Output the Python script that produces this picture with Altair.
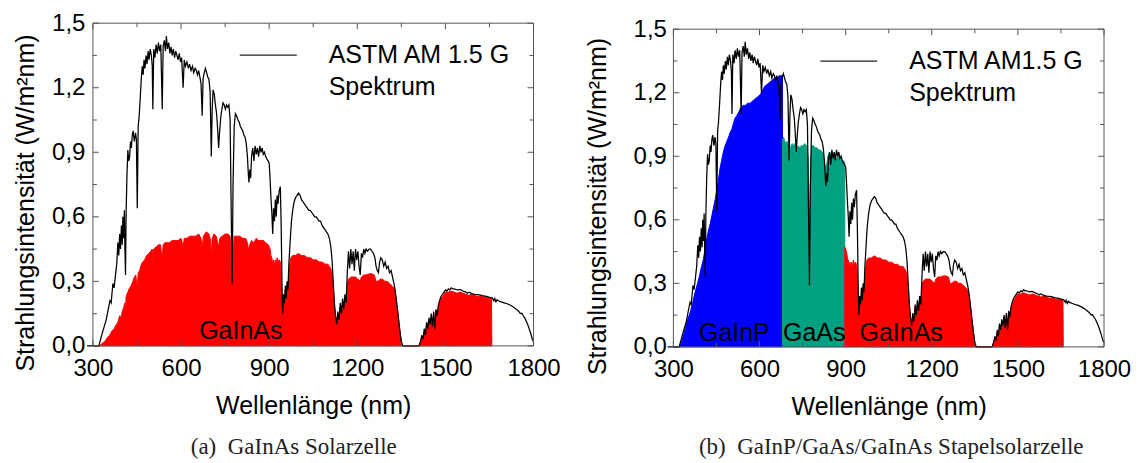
import altair as alt
import pandas as pd

# ---------------- data ----------------
SPEC_WL = [280, 300, 320, 326, 334, 345, 352, 358, 362, 368, 372, 377, 381, 385, 388, 391, 394, 397, 400, 402,
           405, 407, 409, 411, 413, 416, 419, 422, 425, 428, 431, 434, 437, 441, 445, 448, 451, 454, 457, 461,
           465, 468, 471, 474, 477, 481, 484, 488, 491, 495, 499, 502, 504, 507, 511, 515, 519, 523, 527, 531,
           534, 536, 539, 543, 547, 550, 554, 558, 562, 566, 570, 574, 578, 582, 586, 590, 594, 598, 602, 607,
           611, 615, 620, 625, 629, 634, 639, 643, 648, 652, 656, 660, 664, 668, 672, 675, 679, 683, 687, 691,
           695, 699, 703, 706, 709, 713, 717, 721, 724, 728, 731, 735, 739, 743, 747, 751, 755, 759, 763, 767,
           771, 774, 777, 781, 785, 789, 794, 798, 802, 806, 810, 814, 818, 822, 826, 829, 831, 834, 837, 840,
           844, 848, 852, 856, 860, 864, 868, 872, 876, 880, 884, 888, 892, 896, 900, 903, 906, 909, 912, 915,
           918, 921, 924, 927, 930, 934, 938, 941, 944, 946, 949, 952, 955, 958, 961, 964, 967, 970, 973, 976,
           980, 985, 990, 995, 1000, 1005, 1010, 1015, 1020, 1025, 1030, 1035, 1040, 1045, 1050, 1055, 1060, 1065, 1070, 1075,
           1080, 1085, 1090, 1095, 1100, 1105, 1110, 1114, 1118, 1122, 1126, 1130, 1134, 1138, 1142, 1146, 1150, 1154, 1158, 1162,
           1166, 1170, 1174, 1178, 1182, 1186, 1190, 1194, 1198, 1202, 1206, 1210, 1214, 1218, 1222, 1226, 1230, 1235, 1240, 1245,
           1250, 1255, 1260, 1264, 1268, 1272, 1276, 1280, 1285, 1290, 1295, 1300, 1305, 1310, 1315, 1320, 1325, 1330, 1335, 1340,
           1345, 1350, 1355, 1410, 1415, 1420, 1424, 1428, 1432, 1436, 1440, 1444, 1448, 1452, 1456, 1460, 1464, 1468, 1472, 1476,
           1480, 1485, 1490, 1495, 1500, 1505, 1510, 1515, 1520, 1525, 1530, 1540, 1550, 1560, 1570, 1575, 1580, 1590, 1600, 1610,
           1620, 1630, 1640, 1650, 1660, 1665, 1668, 1672, 1676, 1680, 1690, 1700, 1710, 1720, 1730, 1740, 1750, 1755, 1760, 1765,
           1770, 1780, 1790, 1796, 1800]
SPEC_VAL = [0, 0, 0, 0.03, 0.07, 0.12, 0.17, 0.21, 0.20, 0.29, 0.27, 0.33, 0.38, 0.48, 0.42, 0.52, 0.45, 0.56, 0.47, 0.60,
            0.50, 0.63, 0.45, 0.33, 0.62, 0.80, 0.91, 0.86, 0.88, 0.95, 0.92, 0.98, 1.00, 0.95, 0.99, 0.96, 0.64, 1.02, 1.06, 1.15,
            1.25, 1.30, 1.26, 1.33, 1.29, 1.35, 1.31, 1.37, 1.33, 1.38, 1.35, 1.30, 1.10, 1.38, 1.34, 1.40, 1.36, 1.41, 1.37, 1.40,
            1.22, 1.10, 1.39, 1.42, 1.37, 1.44, 1.38, 1.41, 1.36, 1.39, 1.35, 1.38, 1.34, 1.37, 1.35, 1.33, 1.36, 1.32, 1.34, 1.20,
            1.33, 1.30, 1.32, 1.29, 1.31, 1.28, 1.30, 1.27, 1.29, 1.28, 1.26, 1.28, 1.25, 1.22, 1.07, 1.24, 1.27, 1.29, 1.27, 1.25,
            1.24, 1.18, 0.88, 1.10, 1.19, 1.17, 1.12, 1.08, 1.02, 0.92, 0.99, 1.06, 1.10, 1.13, 1.12, 1.10, 1.12, 1.11, 1.12, 1.05,
            0.60, 0.29, 0.75, 1.02, 1.08, 1.07, 1.05, 1.04, 1.02, 1.01, 1.00, 0.98, 0.97, 0.94, 0.88, 0.80, 0.76, 0.82, 0.78, 0.88,
            0.92, 0.86, 0.93, 0.89, 0.92, 0.88, 0.93, 0.90, 0.92, 0.89, 0.90, 0.88, 0.87, 0.86, 0.85, 0.78, 0.69, 0.62, 0.52, 0.64,
            0.58, 0.68, 0.60, 0.70, 0.66, 0.72, 0.74, 0.55, 0.25, 0.15, 0.24, 0.20, 0.28, 0.22, 0.30, 0.26, 0.38, 0.45, 0.52, 0.58,
            0.63, 0.67, 0.69, 0.70, 0.71, 0.70, 0.68, 0.67, 0.66, 0.65, 0.64, 0.63, 0.63, 0.62, 0.61, 0.60, 0.60, 0.59, 0.58, 0.58,
            0.56, 0.55, 0.54, 0.53, 0.52, 0.50, 0.46, 0.40, 0.30, 0.20, 0.14, 0.10, 0.16, 0.12, 0.20, 0.15, 0.22, 0.17, 0.24, 0.20,
            0.34, 0.44, 0.36, 0.45, 0.38, 0.44, 0.35, 0.45, 0.40, 0.44, 0.37, 0.33, 0.43, 0.41, 0.45, 0.43, 0.45, 0.44, 0.45, 0.45,
            0.44, 0.43, 0.41, 0.37, 0.35, 0.34, 0.39, 0.41, 0.40, 0.37, 0.39, 0.36, 0.37, 0.34, 0.35, 0.32, 0.29, 0.25, 0.19, 0.13,
            0.07, 0.02, 0, 0, 0.02, 0.05, 0.03, 0.08, 0.05, 0.11, 0.08, 0.13, 0.10, 0.15, 0.09, 0.16, 0.08, 0.17, 0.14, 0.19,
            0.21, 0.23, 0.24, 0.25, 0.26, 0.255, 0.265, 0.26, 0.27, 0.265, 0.265, 0.26, 0.262, 0.255, 0.25, 0.245, 0.25, 0.243, 0.24, 0.238,
            0.236, 0.232, 0.23, 0.226, 0.222, 0.21, 0.22, 0.205, 0.215, 0.21, 0.205, 0.20, 0.196, 0.19, 0.182, 0.172, 0.16, 0.15, 0.152, 0.14,
            0.13, 0.10, 0.06, 0.03, 0.02]

GAINAS_WL = [300, 322, 330, 340, 350, 357, 365, 372, 380, 385, 391, 395, 400, 405, 409, 411, 413, 419, 425, 430,
             436, 441, 446, 451, 454, 459, 465, 470, 476, 483, 490, 497, 502, 504, 507, 515, 523, 530, 536, 539,
             545, 550, 560, 570, 580, 590, 600, 607, 611, 620, 630, 640, 650, 660, 668, 672, 676, 686, 695, 699,
             703, 706, 712, 720, 728, 732, 740, 750, 760, 767, 771, 774, 777, 781, 790, 800, 810, 820, 826, 831,
             834, 840, 848, 856, 864, 872, 880, 888, 897, 903, 906, 909, 912, 915, 918, 921, 924, 927, 930, 934,
             938, 941, 944, 946, 949, 952, 955, 958, 961, 964, 967, 970, 974, 980, 990, 1000, 1010, 1020, 1030, 1040,
             1050, 1060, 1070, 1080, 1090, 1100, 1105, 1110, 1114, 1118, 1122, 1126, 1130, 1134, 1138, 1142, 1146, 1150, 1154, 1158,
             1162, 1166, 1170, 1178, 1186, 1194, 1202, 1210, 1214, 1222, 1230, 1240, 1250, 1258, 1264, 1270, 1278, 1286, 1294, 1302,
             1310, 1318, 1325, 1330, 1335, 1340, 1345, 1350, 1355, 1410, 1415, 1420, 1424, 1428, 1432, 1436, 1440, 1444, 1448, 1452,
             1456, 1460, 1464, 1468, 1472, 1476, 1480, 1485, 1490, 1495, 1500, 1510, 1520, 1530, 1540, 1550, 1560, 1570, 1580, 1590,
             1600, 1610, 1620, 1630, 1640, 1650, 1657, 1658]
GAINAS_VAL = [0, 0, 0.01, 0.02, 0.04, 0.05, 0.07, 0.08, 0.10, 0.11, 0.14, 0.13, 0.16, 0.18, 0.20, 0.15, 0.23, 0.25, 0.27, 0.28,
              0.30, 0.32, 0.33, 0.26, 0.34, 0.35, 0.38, 0.39, 0.40, 0.42, 0.43, 0.44, 0.45, 0.38, 0.45, 0.46, 0.47, 0.47, 0.40, 0.47,
              0.48, 0.48, 0.48, 0.49, 0.49, 0.49, 0.50, 0.46, 0.50, 0.50, 0.51, 0.51, 0.51, 0.52, 0.50, 0.45, 0.51, 0.53, 0.52, 0.50,
              0.42, 0.50, 0.52, 0.51, 0.46, 0.50, 0.51, 0.52, 0.52, 0.51, 0.40, 0.29, 0.42, 0.51, 0.51, 0.51, 0.50, 0.50, 0.48, 0.44,
              0.47, 0.49, 0.48, 0.50, 0.49, 0.49, 0.49, 0.48, 0.47, 0.45, 0.42, 0.41, 0.38, 0.40, 0.37, 0.40, 0.38, 0.41, 0.39, 0.40,
              0.39, 0.34, 0.22, 0.14, 0.22, 0.19, 0.26, 0.20, 0.28, 0.25, 0.33, 0.38, 0.41, 0.42, 0.42, 0.43, 0.42, 0.42, 0.41, 0.41,
              0.40, 0.40, 0.39, 0.39, 0.38, 0.38, 0.37, 0.36, 0.33, 0.27, 0.19, 0.13, 0.10, 0.15, 0.11, 0.18, 0.14, 0.20, 0.16, 0.22,
              0.19, 0.29, 0.31, 0.32, 0.32, 0.32, 0.31, 0.30, 0.32, 0.33, 0.33, 0.335, 0.335, 0.33, 0.30, 0.30, 0.31, 0.31, 0.30, 0.30,
              0.29, 0.28, 0.27, 0.24, 0.19, 0.13, 0.07, 0.02, 0, 0, 0.02, 0.04, 0.03, 0.07, 0.05, 0.10, 0.07, 0.12, 0.09, 0.14,
              0.08, 0.15, 0.08, 0.16, 0.13, 0.18, 0.20, 0.22, 0.23, 0.24, 0.25, 0.25, 0.255, 0.25, 0.245, 0.25, 0.245, 0.24, 0.235, 0.24,
              0.235, 0.23, 0.232, 0.228, 0.225, 0.222, 0.22, 0]

GAINP_WL = [300, 322, 330, 340, 350, 358, 366, 374, 382, 390, 398, 404, 410, 416, 422, 428, 434, 440, 446, 451,
            456, 462, 468, 474, 480, 486, 492, 497, 504, 510, 515, 520, 528, 535, 543, 550, 558, 567, 575, 584,
            593, 602, 610, 618, 627, 636, 645, 652, 660, 668, 675, 680]
GAINP_VAL = [0, 0, 0.03, 0.08, 0.13, 0.16, 0.20, 0.25, 0.29, 0.33, 0.38, 0.41, 0.46, 0.51, 0.55, 0.58, 0.62, 0.66, 0.70, 0.74,
             0.78, 0.84, 0.88, 0.92, 0.95, 0.97, 0.99, 1.01, 1.03, 1.06, 1.08, 1.09, 1.11, 1.13, 1.14, 1.14, 1.15, 1.15, 1.16, 1.17,
             1.18, 1.19, 1.21, 1.23, 1.24, 1.25, 1.26, 1.27, 1.27, 1.28, 1.28, 1.28]

GAAS_WL = [680, 684, 688, 692, 696, 700, 703, 706, 710, 714, 718, 723, 728, 731, 735, 740, 746, 752, 758, 764,
           769, 772, 775, 778, 782, 788, 794, 800, 806, 812, 818, 822, 826, 830, 834, 838, 844, 850, 856, 862,
           868, 874, 880, 886, 892, 897]
GAAS_VAL = [0.98, 0.99, 0.97, 0.96, 0.97, 0.95, 0.88, 0.93, 0.95, 0.96, 0.95, 0.96, 0.90, 0.93, 0.95, 0.94, 0.95, 0.95, 0.96, 0.95,
            0.90, 0.70, 0.55, 0.85, 0.95, 0.95, 0.94, 0.94, 0.93, 0.93, 0.92, 0.90, 0.87, 0.84, 0.86, 0.90, 0.92, 0.90, 0.91, 0.89,
            0.89, 0.90, 0.89, 0.88, 0.88, 0.87]

X_MAJOR = [300, 600, 900, 1200, 1500, 1800]
X_MINOR = [450, 750, 1050, 1350, 1650]
Y_MAJOR = [0.0, 0.3, 0.6, 0.9, 1.2, 1.5]
Y_MINOR = [0.15, 0.45, 0.75, 1.05, 1.35]

RED, BLUE, TEAL = "#FF0000", "#0000FF", "#00A082"
FONT = "Liberation Sans"
SERIF = "Liberation Serif"
FRAME = "#555555"

spec = pd.DataFrame({"wl": SPEC_WL, "val": SPEC_VAL})
gainas = pd.DataFrame({"wl": GAINAS_WL, "val": GAINAS_VAL})
gainp = pd.DataFrame({"wl": GAINP_WL, "val": GAINP_VAL})
gaas = pd.DataFrame({"wl": GAAS_WL, "val": GAAS_VAL})
gainas_b = gainas[gainas["wl"] >= 897]

ONE = pd.DataFrame({"k": [0]})


def rule(**enc):
    return alt.Chart(ONE).mark_rule(color=FRAME, strokeWidth=1).encode(**enc)


def panel(w, h, top, fills, legend_lines, cell_labels, caption, caption_x, caption_y,
          ylab_pad, ytitle_x):
    H = h + top  # full view height; the frame starts `top` px below the view origin
    xs = alt.Scale(domain=[300, 1800], nice=False, zero=False)
    ys = alt.Scale(domain=[0, 1.5], nice=False, zero=False, range=[H, top])
    xaxis = alt.Axis(values=X_MAJOR, format="d", ticks=False, tickSize=0, domain=False, grid=False,
                     labelFont=FONT, labelFontSize=24, labelColor="black", labelPadding=11,
                     labelFlush=False, labelOverlap=False,
                     title="Wellenlänge (nm)", titleFont=FONT, titleFontSize=25, titleFontWeight="normal",
                     titleColor="black", titleY=48)
    yaxis = alt.Axis(values=Y_MAJOR, labelExpr="replace(format(datum.value, '.1f'), '.', ',')",
                     ticks=False, tickSize=0, domain=False, grid=False,
                     labelFont=FONT, labelFontSize=24, labelColor="black", labelPadding=ylab_pad,
                     labelOverlap=False,
                     title="Strahlungsintensität (W/m²nm)", titleFont=FONT, titleFontSize=25,
                     titleFontWeight="normal", titleColor="black", titleX=ytitle_x,
                     titleY=top + h / 2 + 18)
    X = alt.X("wl:Q", scale=xs, axis=xaxis)
    Y = alt.Y("val:Q", scale=ys, axis=yaxis)

    layers = []
    for df, col in fills:
        layers.append(alt.Chart(df).mark_area(color=col, stroke=col, strokeWidth=1, opacity=1)
                      .encode(x=X, y=Y))
    layers.append(alt.Chart(spec).mark_line(color="black", strokeWidth=1.25).encode(x=X, y=Y))

    # frame
    layers.append(rule(x=alt.value(0), x2=alt.value(w), y=alt.value(top)))
    layers.append(rule(x=alt.value(0), x2=alt.value(w), y=alt.value(H)))
    layers.append(rule(x=alt.value(0), y=alt.value(top), y2=alt.value(H)))
    layers.append(rule(x=alt.value(w), y=alt.value(top), y2=alt.value(H)))

    # inward ticks on all four sides
    for vals, ln in ((X_MAJOR, 6), (X_MINOR, 4)):
        d = pd.DataFrame({"wl": vals})
        layers.append(alt.Chart(d).mark_rule(color=FRAME, strokeWidth=1)
                      .encode(x=X, y=alt.value(H), y2=alt.value(H - ln)))
        layers.append(alt.Chart(d).mark_rule(color=FRAME, strokeWidth=1)
                      .encode(x=X, y=alt.value(top), y2=alt.value(top + ln)))
    for vals, ln in ((Y_MAJOR, 6), (Y_MINOR, 4)):
        d = pd.DataFrame({"val": vals})
        layers.append(alt.Chart(d).mark_rule(color=FRAME, strokeWidth=1)
                      .encode(y=Y, x=alt.value(0), x2=alt.value(ln)))
        layers.append(alt.Chart(d).mark_rule(color=FRAME, strokeWidth=1)
                      .encode(y=Y, x=alt.value(w), x2=alt.value(w - ln)))

    # legend
    layers.append(alt.Chart(ONE).mark_rule(color="#222", strokeWidth=1.2)
                  .encode(x=alt.value(147), x2=alt.value(204), y=alt.value(top + 32)))
    ldf = pd.DataFrame({"t": legend_lines, "y": [top + 32, top + 64]})
    layers.append(alt.Chart(ldf).mark_text(font=FONT, fontSize=25, align="left", baseline="middle",
                                           color="black")
                  .encode(x=alt.value(236), y=alt.Y("y:Q", scale=None), text="t:N"))

    # cell names
    cdf = pd.DataFrame({"t": [c[0] for c in cell_labels], "px": [c[1] for c in cell_labels],
                        "py": [top + c[2] for c in cell_labels]})
    layers.append(alt.Chart(cdf).mark_text(font=FONT, fontSize=25, align="center", baseline="middle",
                                           color="black")
                  .encode(x=alt.X("px:Q", scale=None), y=alt.Y("py:Q", scale=None), text="t:N"))

    # caption
    layers.append(alt.Chart(pd.DataFrame({"t": [caption]})).mark_text(
        font=SERIF, fontSize=23, align="center", baseline="middle", color="#222")
        .encode(x=alt.value(caption_x), y=alt.value(caption_y), text="t:N"))

    return alt.layer(*layers).properties(width=w, height=H)


pa = panel(441, 323, 0, [(gainas, RED)], ["ASTM AM 1.5 G", "Spektrum"],
           [("GaInAs", 148, 308)], "(a)\u2002GaInAs Solarzelle", 201, 424, 8, -54)
pb = panel(431, 318, 6, [(gainp, BLUE), (gaas, TEAL), (gainas_b, RED)], ["ASTM AM1.5 G", "Spektrum"],
           [("GaInP", 61, 304), ("GaAs", 141, 304), ("GaInAs", 228, 304)],
           "(b)\u2002GaInP/GaAs/GaInAs Stapelsolarzelle", 218, 424, 7, -63)

chart = alt.hconcat(pa, pb, spacing=25).properties(
    padding={"left": 6, "top": 3, "right": 0, "bottom": 0}
).configure_view(stroke=None)

chart.save("out.html", embed_options={"renderer": "svg", "actions": False})
